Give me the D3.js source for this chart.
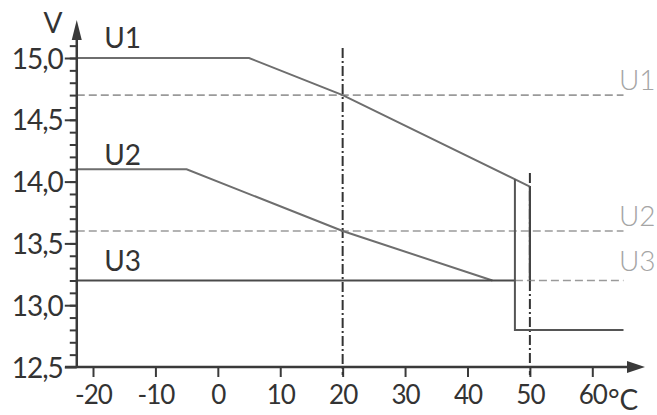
<!DOCTYPE html>
<html>
<head>
<meta charset="utf-8">
<script src="https://cdn.jsdelivr.net/npm/d3@7"></script>
<style>
  body { margin: 0; background: #fff; }
  svg text { font-family: Lato, "Noto Sans", sans-serif; }
</style>
</head>
<body>
<svg id="chart" width="657" height="415"></svg>
<script>
// temperature (°C) / voltage (V) readings
const tempTicks = [-20, -10, 0, 10, 20, 30, 40, 50, 60];
const voltTicks = [12.5, 13.0, 13.5, 14.0, 14.5, 15.0];
const voltMinor = d3.range(126, 152).map((d) => d / 10);

const u1Temp = [-22.6, 5, 20, 50];
const u1Volt = [15.0, 15.0, 14.7, 13.96];
const u2Temp = [-22.6, -5, 20, 44];
const u2Volt = [14.1, 14.1, 13.6, 13.2];
const u3Temp = [-22.6, 47.6];
const u3Volt = [13.2, 13.2];
const cutTemp = [47.6, 47.6, 65];
const cutVolt = [14.02, 12.8, 12.8];
const dropTemp = [50, 50];
const dropVolt = [13.96, 13.2];

const refNames = ["U1", "U2", "U3"];
const refVolt = [14.7, 13.6, 13.2];
const refStart = [-22.6, -22.6, 47.6];
const refEnd = 65;

const markTemp = [20, 50];
const markTop = [15.08, 14.07];

const svg = d3.select("#chart");

const x = d3.scaleLinear().domain([-20, 60]).range([93, 592.3]);
const y = d3.scaleLinear().domain([12.5, 15]).range([367, 58]);

const axisColor = "#3a3a3a";

// y axis minor + major ticks
svg.append("g")
  .attr("transform", `translate(${x(-22.6)},0)`)
  .call(d3.axisLeft(y).tickValues(voltMinor).tickSize(7).tickFormat(""))
  .call((g) => g.select(".domain").remove())
  .call((g) => g.selectAll("line").attr("stroke", axisColor).attr("stroke-width", 2));

svg.append("g")
  .attr("transform", `translate(${x(-22.6)},0)`)
  .call(d3.axisLeft(y).tickValues(voltTicks).tickSize(12).tickPadding(2)
    .tickFormat((d) => d.toFixed(1).replace(".", ",")))
  .call((g) => g.select(".domain").remove())
  .call((g) => g.selectAll("line").attr("stroke", axisColor).attr("stroke-width", 2))
  .call((g) => g.selectAll("text").attr("fill", "#333").style("font-size", "28px")
    .attr("dy", "0.36em").attr("letter-spacing", "-1"));

// x axis ticks (plain hyphen for negatives, like the original)
svg.append("g")
  .attr("transform", `translate(0,${y(12.5)})`)
  .call(d3.axisBottom(x).tickValues(tempTicks).tickSize(10).tickPadding(6)
    .tickFormat((d) => String(d)))
  .call((g) => g.select(".domain").remove())
  .call((g) => g.selectAll("line").attr("stroke", axisColor).attr("stroke-width", 2))
  .call((g) => g.selectAll("text").attr("fill", "#333").style("font-size", "26px")
    .attr("dy", "0.8em").attr("letter-spacing", "-1"));

// reference levels (dashed)
refNames.forEach((name, i) => {
  svg.append("line")
    .attr("x1", x(refStart[i])).attr("x2", x(refEnd))
    .attr("y1", y(refVolt[i])).attr("y2", y(refVolt[i]))
    .attr("stroke", "#9a9a9a").attr("stroke-width", 1.6)
    .attr("stroke-dasharray", "8,4");
  svg.append("text")
    .attr("x", 619).attr("y", y(refVolt[i]) - (i == 2 ? 9 : 5))
    .attr("fill", "#a5a5a5").style("font-size", "28px").style("font-weight", 300)
    .text(name);
});

// vertical dash-dot markers
markTemp.forEach((t, i) => {
  svg.append("line")
    .attr("x1", x(t)).attr("x2", x(t))
    .attr("y1", y(markTop[i])).attr("y2", y(12.5) + 8)
    .attr("stroke", "#333").attr("stroke-width", 2)
    .attr("stroke-dasharray", "10,3,2,3");
});

const line = d3.line().x((d) => x(d[0])).y((d) => y(d[1]));
const pts = (ts, vs) => ts.map((t, i) => [t, vs[i]]);

svg.append("path").datum(pts(u1Temp, u1Volt)).attr("d", line)
  .attr("fill", "none").attr("stroke", "#6e6e6e").attr("stroke-width", 2);
svg.append("path").datum(pts(u2Temp, u2Volt)).attr("d", line)
  .attr("fill", "none").attr("stroke", "#6e6e6e").attr("stroke-width", 2);
svg.append("path").datum(pts(u3Temp, u3Volt)).attr("d", line)
  .attr("fill", "none").attr("stroke", "#4a4a4a").attr("stroke-width", 2);
svg.append("path").datum(pts(cutTemp, cutVolt)).attr("d", line)
  .attr("fill", "none").attr("stroke", "#555").attr("stroke-width", 2);
svg.append("path").datum(pts(dropTemp, dropVolt)).attr("d", line)
  .attr("fill", "none").attr("stroke", "#444").attr("stroke-width", 2.2);

// curve names on the left
[["U1", 15.0, 10], ["U2", 14.1, 4], ["U3", 13.2, 9]].forEach(([name, v, off]) => {
  svg.append("text")
    .attr("x", x(-18.2)).attr("y", y(v) - off)
    .attr("fill", "#333").style("font-size", "28px")
    .text(name);
});

// axes with arrow heads
const x0 = x(-22.6), yBase = y(12.5);
svg.append("line").attr("x1", 65).attr("x2", 630).attr("y1", yBase).attr("y2", yBase)
  .attr("stroke", axisColor).attr("stroke-width", 2.5);
svg.append("line").attr("x1", x0).attr("x2", x0).attr("y1", yBase + 1).attr("y2", 36)
  .attr("stroke", axisColor).attr("stroke-width", 2.5);
svg.append("path")
  .attr("d", `M645,${yBase} L627,${yBase - 6} L627,${yBase + 6} Z`)
  .attr("fill", axisColor);
svg.append("path")
  .attr("d", `M${x0},20 L${x0 - 5},40 L${x0 + 5},40 Z`)
  .attr("fill", axisColor);

// units
svg.append("text").attr("x", 53).attr("y", 33).attr("text-anchor", "middle")
  .attr("fill", "#333").style("font-size", "28px").text("V");
svg.append("text").attr("x", 608).attr("y", 410)
  .attr("fill", "#333").style("font-size", "28px").text("°C");
</script>
</body>
</html>
